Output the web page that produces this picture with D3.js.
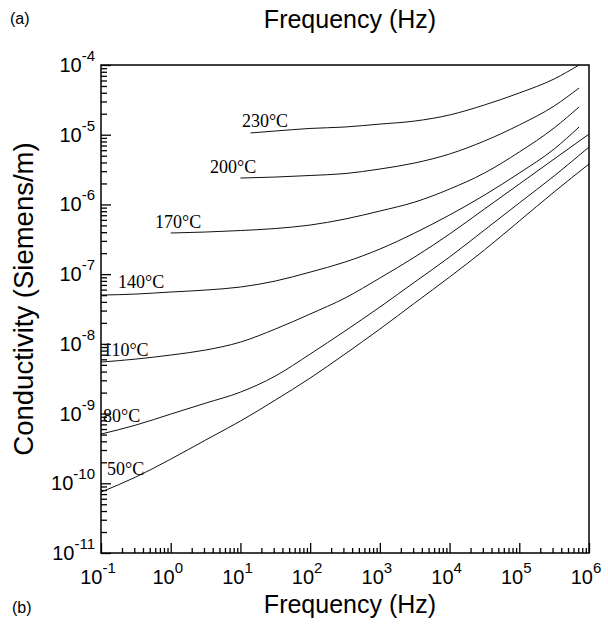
<!DOCTYPE html>
<html>
<head>
<meta charset="utf-8">
<script src="https://cdn.jsdelivr.net/npm/d3@7"></script>
<style>
  body { margin: 0; background: #fff; }
  svg { display: block; }
</style>
</head>
<body>
<script>
// decades shown on the two log axes
const freqDecades = [-1, 0, 1, 2, 3, 4, 5, 6];
const condDecades = [-11, -10, -9, -8, -7, -6, -5, -4];

const temps = ['230°C', '200°C', '170°C', '140°C', '110°C', '80°C', '50°C'];

// frequency (Hz) and conductivity (S/m)
const f230 = [14, 31.6, 100, 316, 1e3, 3.16e3, 1e4, 3.16e4, 1e5, 3.16e5, 7.2e5];
const s230 = [1.06e-5, 1.13e-5, 1.23e-5, 1.29e-5, 1.42e-5, 1.57e-5, 1.92e-5, 2.67e-5, 3.97e-5, 6.30e-5, 1.0e-4];

const f200 = [10, 31.6, 100, 316, 1e3, 3.16e3, 1e4, 3.16e4, 1e5, 3.16e5, 7.2e5];
const s200 = [2.39e-6, 2.47e-6, 2.60e-6, 2.77e-6, 3.22e-6, 3.93e-6, 5.29e-6, 8.12e-6, 1.38e-5, 2.58e-5, 4.68e-5];

const f170 = [1, 3.16, 10, 31.6, 100, 316, 1e3, 3.16e3, 1e4, 3.16e4, 1e5, 3.16e5, 7.2e5];
const s170 = [3.89e-7, 4.02e-7, 4.22e-7, 4.51e-7, 5.06e-7, 6.17e-7, 8.04e-7, 1.08e-6, 1.66e-6, 2.82e-6, 5.65e-6, 1.25e-5, 2.50e-5];

const f140 = [0.1, 0.316, 1, 3.16, 10, 31.6, 100, 316, 1e3, 3.16e3, 1e4, 3.16e4, 1e5, 3.16e5, 7.2e5];
const s140 = [5.01e-8, 5.18e-8, 5.54e-8, 5.91e-8, 6.53e-8, 7.96e-8, 1.07e-7, 1.49e-7, 2.29e-7, 3.89e-7, 7.05e-7, 1.36e-6, 2.82e-6, 6.23e-6, 1.29e-5];

const f110 = [0.1, 0.316, 1, 3.16, 10, 31.6, 100, 316, 1e3, 3.16e3, 1e4, 3.16e4, 1e5, 3.16e5, 1e6];
const s110 = [5.48e-9, 6.05e-9, 6.91e-9, 8.15e-9, 1.06e-8, 1.63e-8, 2.68e-8, 4.54e-8, 8.79e-8, 1.76e-7, 3.76e-7, 8.59e-7, 1.96e-6, 4.48e-6, 1.02e-5];

const f80 = [0.1, 0.316, 1, 3.16, 10, 31.6, 100, 316, 1e3, 3.16e3, 1e4, 3.16e4, 1e5, 3.16e5, 1e6];
const s80 = [5.08e-10, 6.84e-10, 9.83e-10, 1.41e-9, 2.03e-9, 3.45e-9, 7.14e-9, 1.53e-8, 3.37e-8, 7.70e-8, 1.76e-7, 4.29e-7, 1.05e-6, 2.56e-6, 6.66e-6];

const f50 = [0.1, 0.316, 1, 3.16, 10, 31.6, 100, 316, 1e3, 3.16e3, 1e4, 3.16e4, 1e5, 3.16e5, 1e6];
const s50 = [7.48e-11, 1.23e-10, 2.22e-10, 4.17e-10, 7.81e-10, 1.56e-9, 3.23e-9, 7.14e-9, 1.63e-8, 3.85e-8, 9.09e-8, 2.22e-7, 5.78e-7, 1.51e-6, 3.80e-6];

// where each temperature tag sits (left end of text, baseline)
const labelFreq = [10.5, 3.66, 0.596, 0.176, 0.107, 0.107, 0.122];
const labelCond = [1.29e-5, 2.82e-6, 4.59e-7, 6.32e-8, 6.68e-9, 7.55e-10, 1.31e-10];

const freqs = [f230, f200, f170, f140, f110, f80, f50];
const conds = [s230, s200, s170, s140, s110, s80, s50];

const series = temps.map((t, i) => ({
  name: t,
  values: freqs[i].map((f, j) => ({ f, s: conds[i][j] })),
  lf: labelFreq[i],
  ls: labelCond[i],
}));

const margin = {
  top: 65, right: 19, bottom: 72, left: 101,
};
const W = 608;
const H = 625;

const x = d3.scaleLog()
  .domain([1e-1, 1e6])
  .range([margin.left, W - margin.right]);

const y = d3.scaleLog()
  .domain([1e-11, 1e-4])
  .range([H - margin.bottom, margin.top]);

const svg = d3.select('body').append('svg')
  .attr('width', W)
  .attr('height', H);

const sans = 'Arial, "Liberation Sans", Helvetica, sans-serif';
const serif = '"Times New Roman", "Liberation Serif", serif';

const majorF = freqDecades.map(e => 10 ** e);
const majorS = condDecades.map(e => 10 ** e);
const minorF = [];
freqDecades.slice(0, -1).forEach((e) => {
  for (let k = 2; k < 10; k++) minorF.push(k * 10 ** e);
});
const minorS = [];
condDecades.slice(0, -1).forEach((e) => {
  for (let k = 2; k < 10; k++) minorS.push(k * 10 ** e);
});

const bottomY = y.range()[0];
const leftX = x.range()[0];

// inward ticks on bottom and left
svg.append('g')
  .attr('transform', `translate(0,${bottomY})`)
  .call(d3.axisBottom(x).tickValues(minorF).tickSize(-5).tickFormat('').tickSizeOuter(0))
  .call(g => g.select('.domain').remove());
svg.append('g')
  .attr('transform', `translate(0,${bottomY})`)
  .call(d3.axisBottom(x).tickValues(majorF).tickSize(-10).tickFormat('').tickSizeOuter(0))
  .call(g => g.select('.domain').remove());
svg.append('g')
  .attr('transform', `translate(${leftX},0)`)
  .call(d3.axisLeft(y).tickValues(minorS).tickSize(-6).tickFormat('').tickSizeOuter(0))
  .call(g => g.select('.domain').remove());
svg.append('g')
  .attr('transform', `translate(${leftX},0)`)
  .call(d3.axisLeft(y).tickValues(majorS).tickSize(-10).tickFormat('').tickSizeOuter(0))
  .call(g => g.select('.domain').remove());

svg.selectAll('.tick line')
  .attr('stroke', '#000')
  .attr('stroke-width', 1.3);

// frame
svg.append('rect')
  .attr('x', leftX)
  .attr('y', margin.top)
  .attr('width', x.range()[1] - leftX)
  .attr('height', bottomY - margin.top)
  .attr('fill', 'none')
  .attr('stroke', '#000')
  .attr('stroke-width', 1.5);

// tick labels with superscripts
const xl = svg.append('g').selectAll('text')
  .data(freqDecades)
  .enter().append('text')
  .attr('x', d => x(10 ** d) - 3)
  .attr('y', bottomY + 31)
  .attr('text-anchor', 'middle')
  .attr('font-family', sans)
  .attr('font-size', 20)
  .attr('fill', '#000');
xl.append('tspan').text('10');
xl.append('tspan')
  .attr('dy', -11)
  .attr('font-size', 15)
  .text(d => `${d}`);

const yl = svg.append('g').selectAll('text')
  .data(condDecades)
  .enter().append('text')
  .attr('x', leftX - 6)
  .attr('y', d => y(10 ** d) + 7)
  .attr('text-anchor', 'end')
  .attr('font-family', sans)
  .attr('font-size', 20)
  .attr('fill', '#000');
yl.append('tspan').text('10');
yl.append('tspan')
  .attr('dy', -11)
  .attr('font-size', 15)
  .text(d => `${d}`);

// curves
const line = d3.line()
  .x(d => x(d.f))
  .y(d => y(d.s))
  .curve(d3.curveMonotoneX);

svg.append('g').selectAll('path')
  .data(series)
  .enter().append('path')
  .attr('d', d => line(d.values))
  .attr('fill', 'none')
  .attr('stroke', '#111')
  .attr('stroke-width', 1);

svg.append('g').selectAll('text')
  .data(series)
  .enter().append('text')
  .attr('x', d => x(d.lf))
  .attr('y', d => y(d.ls))
  .attr('font-family', serif)
  .attr('font-size', 18)
  .attr('fill', '#000')
  .text(d => d.name);

// titles
const midX = (x.range()[0] + x.range()[1]) / 2;
svg.append('text')
  .attr('x', midX + 5)
  .attr('y', 28)
  .attr('text-anchor', 'middle')
  .attr('font-family', sans)
  .attr('font-size', 25)
  .text('Frequency (Hz)');

svg.append('text')
  .attr('x', midX + 5)
  .attr('y', 613)
  .attr('text-anchor', 'middle')
  .attr('font-family', sans)
  .attr('font-size', 25)
  .text('Frequency (Hz)');

svg.append('text')
  .attr('transform', 'translate(33,299) rotate(-90)')
  .attr('text-anchor', 'middle')
  .attr('font-family', sans)
  .attr('font-size', 27.5)
  .text('Conductivity (Siemens/m)');

svg.append('text')
  .attr('x', 10)
  .attr('y', 24)
  .attr('font-family', sans)
  .attr('font-size', 16)
  .text('(a)');

svg.append('text')
  .attr('x', 12)
  .attr('y', 613)
  .attr('font-family', sans)
  .attr('font-size', 16)
  .text('(b)');
</script>
</body>
</html>
